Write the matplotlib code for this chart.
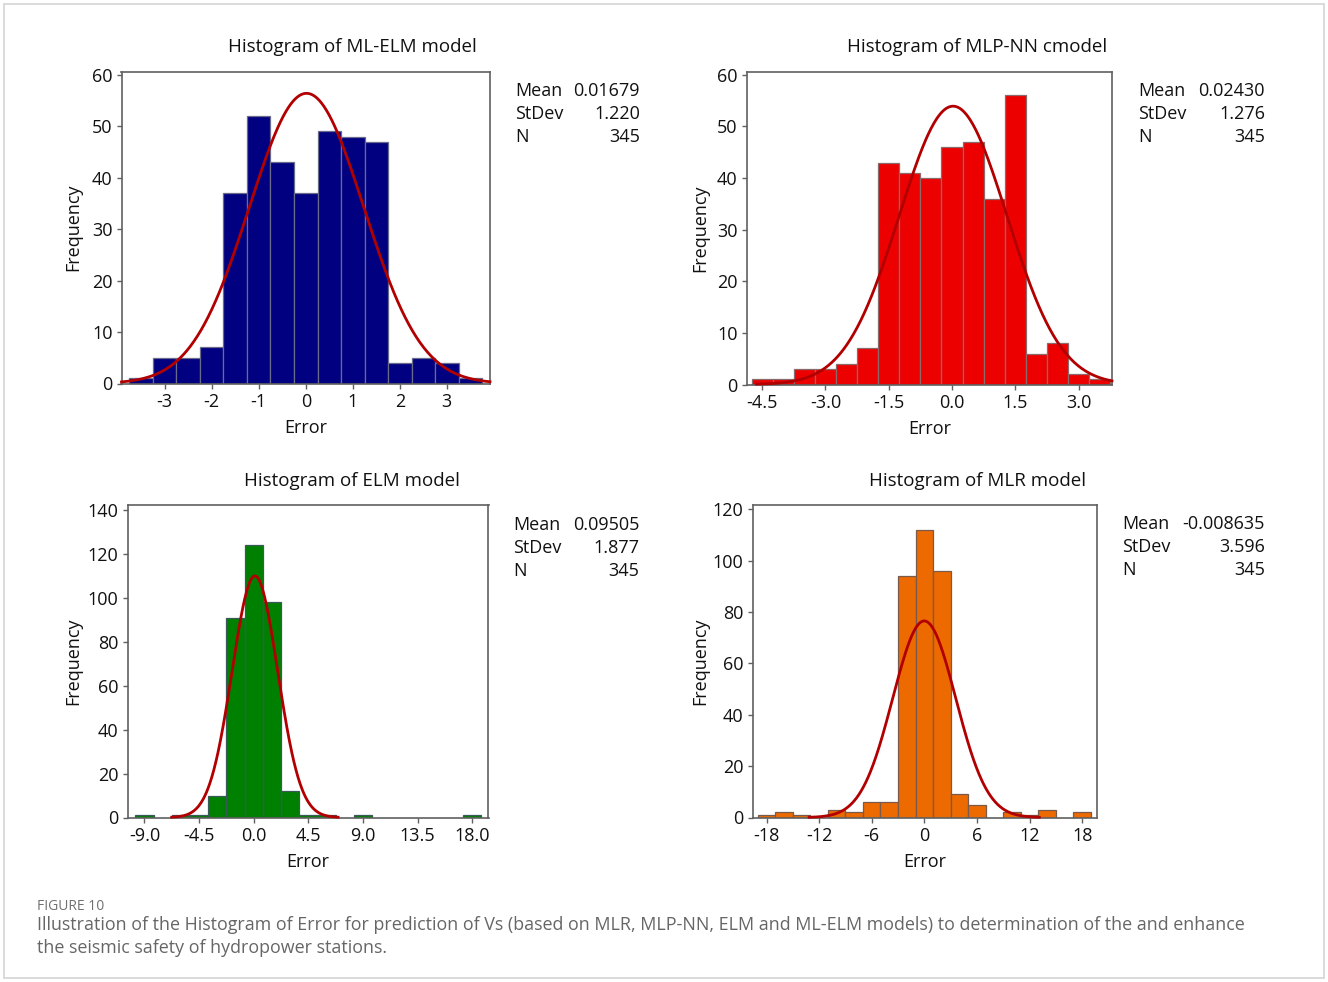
import numpy as np
import matplotlib
matplotlib.use('Agg')
import matplotlib.pyplot as plt
from matplotlib.patches import Rectangle

plt.rcParams['font.family'] = ['Open Sans', 'DejaVu Sans']

# ML-ELM model
mlelm_centers = [-3.5, -3.0, -2.5, -2.0, -1.5, -1.0, -0.5, 0.0, 0.5, 1.0, 1.5, 2.0, 2.5, 3.0, 3.5]
mlelm_counts = [1, 5, 5, 7, 37, 52, 43, 37, 49, 48, 47, 4, 5, 4, 1]
mlelm_stats = ["0.01679", "1.220", "345"]

# MLP-NN model
mlp_centers = [-4.5, -4.0, -3.5, -3.0, -2.5, -2.0, -1.5, -1.0, -0.5, 0.0, 0.5, 1.0, 1.5, 2.0, 2.5, 3.0, 3.5]
mlp_counts = [1, 1, 3, 3, 4, 7, 43, 41, 40, 46, 47, 36, 56, 6, 8, 2, 1]
mlp_stats = ["0.02430", "1.276", "345"]

# ELM model
elm_centers = [-9.0, -6.0, -4.5, -3.0, -1.5, 0.0, 1.5, 3.0, 4.5, 6.0, 9.0, 18.0]
elm_counts = [1, 1, 1, 10, 91, 124, 98, 12, 1, 1, 1, 1]
elm_stats = ["0.09505", "1.877", "345"]

# MLR model
mlr_centers = [-18, -16, -14, -10, -8, -6, -4, -2, 0, 2, 4, 6, 10, 12, 14, 18]
mlr_counts = [1, 2, 1, 3, 2, 6, 6, 94, 112, 96, 9, 5, 2, 1, 3, 2]
mlr_stats = ["-0.008635", "3.596", "345"]

W, H = 1328, 982
fig = plt.figure(figsize=(W / 100, H / 100), dpi=100)

CURVE = '#b20000'
SPINE = '#606060'
TXT = '#111111'


def px_axes(l, r, t, b):
    return fig.add_axes([l / W, 1 - b / H, (r - l) / W, (b - t) / H])


def panel(box, centers, counts, width, color, mean, sd, n, xlim, ylim,
          xticks, xtl, yticks, title, title_xy, stats, stats_xy, ylab_x, edge):
    ax = px_axes(*box)
    ax.bar(centers, counts, width=width, color=color, edgecolor=edge,
           linewidth=0.9, zorder=2)
    # fitted normal curve, scaled to counts
    lo = max(xlim[0], mean - 3.65 * sd)
    hi = min(xlim[1], mean + 3.65 * sd)
    xs = np.linspace(lo, hi, 400)
    ys = n * width / (sd * np.sqrt(2 * np.pi)) * np.exp(-0.5 * ((xs - mean) / sd) ** 2)
    ax.plot(xs, ys, color=CURVE, linewidth=2.0, zorder=3, clip_on=False)
    ax.set_xlim(*xlim)
    ax.set_ylim(*ylim)
    ax.set_xticks(xticks)
    ax.set_xticklabels(xtl)
    ax.set_yticks(yticks)
    for s in ax.spines.values():
        s.set_color(SPINE)
        s.set_linewidth(1.2)
    ax.tick_params(direction='out', length=3.5, width=1, color=SPINE,
                   labelsize=13, labelcolor=TXT, pad=3)
    ax.set_xlabel('Error', fontsize=13, color=TXT, labelpad=6)
    l, r, t, b = box
    fig.text(ylab_x / W, 1 - (t + b) / 2 / H, 'Frequency', rotation=90,
             ha='center', va='center', fontsize=13, color=TXT)
    fig.text(title_xy[0] / W, 1 - title_xy[1] / H, title, ha='center',
             va='center', fontsize=13.5, color=TXT)
    sx_l, sx_r, sy = stats_xy
    for i, (lab, val) in enumerate(zip(['Mean', 'StDev', 'N'], stats)):
        y = 1 - (sy + 23 * i) / H
        fig.text(sx_l / W, y, lab, ha='left', va='center', fontsize=13, color=TXT)
        fig.text(sx_r / W, y, val, ha='right', va='center', fontsize=13, color=TXT)
    return ax


panel((121.5, 490, 71.5, 383.5), mlelm_centers, mlelm_counts, 0.5, '#000080',
      0.01679, 1.220, 345, (-3.92, 3.92), (0, 60.65),
      [-3, -2, -1, 0, 1, 2, 3], ['-3', '-2', '-1', '0', '1', '2', '3'],
      range(0, 61, 10), 'Histogram of ML-ELM model', (352, 47),
      mlelm_stats, (515, 640, 91), 73, '#6a6a8a')

panel((746.5, 1112, 71.5, 384.5), mlp_centers, mlp_counts, 0.5, '#ec0000',
      0.02430, 1.276, 345, (-4.87, 3.79), (0, 60.65),
      [-4.5, -3.0, -1.5, 0.0, 1.5, 3.0], ['-4.5', '-3.0', '-1.5', '0.0', '1.5', '3.0'],
      range(0, 61, 10), 'Histogram of MLP-NN cmodel', (977, 47),
      mlp_stats, (1138, 1265, 91), 700, '#8a6a6a')

panel((127.5, 488.5, 505, 817.5), elm_centers, elm_counts, 1.5, '#008000',
      0.09505, 1.877, 345, (-10.4, 19.34), (0, 142.3),
      [-9.0, -4.5, 0.0, 4.5, 9.0, 13.5, 18.0],
      ['-9.0', '-4.5', '0.0', '4.5', '9.0', '13.5', '18.0'],
      range(0, 141, 20), 'Histogram of ELM model', (352, 481),
      elm_stats, (513, 639, 525), 73, '#3a5a5a')

panel((752.5, 1097, 505, 817.5), mlr_centers, mlr_counts, 2.0, '#ec6a00',
      -0.008635, 3.596, 345, (-19.6, 19.7), (0, 121.7),
      [-18, -12, -6, 0, 6, 12, 18], ['-18', '-12', '-6', '0', '6', '12', '18'],
      range(0, 121, 20), 'Histogram of MLR model', (977, 481),
      mlr_stats, (1122, 1265, 524), 700, '#7a5a4a')

# caption
fig.text(37 / W, 1 - 906 / H, 'FIGURE 10', ha='left', va='center',
         fontsize=10, color='#707070')
fig.text(37 / W, 1 - 925 / H,
         'Illustration of the Histogram of Error for prediction of Vs (based on MLR, MLP-NN, ELM and ML-ELM models) to determination of the and enhance',
         ha='left', va='center', fontsize=12.9, color='#666666')
fig.text(37 / W, 1 - 948 / H, 'the seismic safety of hydropower stations.',
         ha='left', va='center', fontsize=12.9, color='#666666')

# light frame around the figure
fig.patches.append(Rectangle((4 / W, 4 / H), (W - 8) / W, (H - 8) / H,
                             transform=fig.transFigure, fill=False,
                             edgecolor='#d4d4d4', linewidth=1.2))

fig.savefig('out.png', dpi=100)
